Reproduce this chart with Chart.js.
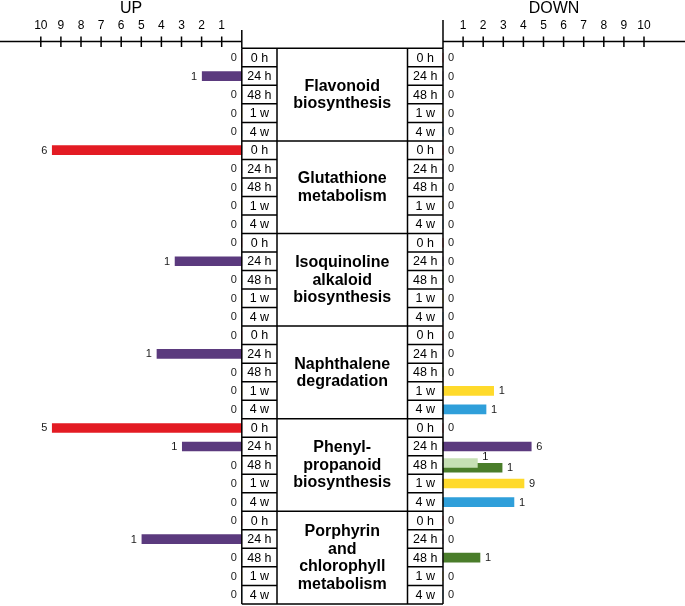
<!DOCTYPE html>
<html><head><meta charset="utf-8">
<script src="https://cdn.jsdelivr.net/npm/chart.js@4.4.1/dist/chart.umd.min.js"></script>
<style>html,body{margin:0;padding:0;background:#fff;}canvas{display:block;}</style>
</head><body>
<canvas id="c" width="685" height="606"></canvas>
<script>
// ---- data ----
const pathways = [
  ['Flavonoid', 'biosynthesis'],
  ['Glutathione', 'metabolism'],
  ['Isoquinoline', 'alkaloid', 'biosynthesis'],
  ['Naphthalene', 'degradation'],
  ['Phenyl-', 'propanoid', 'biosynthesis'],
  ['Porphyrin', 'and', 'chlorophyll', 'metabolism']
];
const timePoints = ['0 h', '24 h', '48 h', '1 w', '4 w'];
const axisTicks = [1, 2, 3, 4, 5, 6, 7, 8, 9, 10];
const sideTitles = ['UP', 'DOWN'];

// UP (left) bar lengths, one value per pathway
const upBar0h  = [0, 9.43, 0, 0, 9.43, 0];
const upBar24h = [1.97, 0, 3.32, 4.22, 2.96, 4.97];
const upBar48h = [0, 0, 0, 0, 0, 0];
const upBar1w  = [0, 0, 0, 0, 0, 0];
const upBar4w  = [0, 0, 0, 0, 0, 0];
// UP count labels
const upCount0h  = [0, 6, 0, 0, 5, 0];
const upCount24h = [1, 0, 1, 1, 1, 1];
const upCount48h = [0, 0, 0, 0, 0, 0];
const upCount1w  = [0, 0, 0, 0, 0, 0];
const upCount4w  = [0, 0, 0, 0, 0, 0];

// DOWN (right) bar lengths
const downBar0h       = [0, 0, 0, 0, 0, 0];
const downBar24h      = [0, 0, 0, 0, 4.39, 0];
const downBar48h      = [0, 0, 0, 0, 2.94, 1.84];
const downBar48hLight = [0, 0, 0, 0, 1.71, 0];
const downBar1w       = [0, 0, 0, 2.52, 4.03, 0];
const downBar4w       = [0, 0, 0, 2.14, 3.53, 0];
// DOWN count labels
const downCount0h       = [0, 0, 0, 0, 0, 0];
const downCount24h      = [0, 0, 0, 0, 6, 0];
const downCount48h      = [0, 0, 0, 0, 1, 1];
const downCount48hLight = [0, 0, 0, 0, 1, 0];
const downCount1w       = [0, 0, 0, 1, 9, 0];
const downCount4w       = [0, 0, 0, 1, 1, 0];

// ---- styles ----
const timeColors = ['#E31B23', '#5B3A7E', '#4A7D2A', '#FFDA2B', '#2F9FDA'];
const lightGreen = '#C6E0B4';
const FONT = '"Liberation Sans", Arial, sans-serif';

function mk(side, t, bars, counts, color, shiftFn, light) {
  return {
    label: side + ' ' + timePoints[t] + (light ? ' (light)' : ''),
    xAxisID: side === 'up' ? 'xl' : 'xr',
    yAxisID: 'y',
    data: bars.map((v, i) => ({ x: v, y: i * 5 + t + shiftFn(i) })),
    counts: counts,
    side: side,
    light: !!light,
    backgroundColor: color,
    borderWidth: 0,
    barThickness: 9,
    grouped: false
  };
}
const noShift = () => 0;
const darkShift = i => (downBar48hLight[i] > 0 ? 0.15 : 0);
const lightShift = () => -0.11;

const datasets = [
  mk('down', 2, downBar48hLight, downCount48hLight, lightGreen, lightShift, true),
  mk('up', 0, upBar0h, upCount0h, timeColors[0], noShift),
  mk('up', 1, upBar24h, upCount24h, timeColors[1], noShift),
  mk('up', 2, upBar48h, upCount48h, timeColors[2], noShift),
  mk('up', 3, upBar1w, upCount1w, timeColors[3], noShift),
  mk('up', 4, upBar4w, upCount4w, timeColors[4], noShift),
  mk('down', 0, downBar0h, downCount0h, timeColors[0], noShift),
  mk('down', 1, downBar24h, downCount24h, timeColors[1], noShift),
  mk('down', 2, downBar48h, downCount48h, timeColors[2], darkShift),
  mk('down', 3, downBar1w, downCount1w, timeColors[3], noShift),
  mk('down', 4, downBar4w, downCount4w, timeColors[4], noShift)
];

const deco = {
  id: 'deco',
  beforeDraw(chart) {
    const ctx = chart.ctx;
    ctx.save();
    ctx.fillStyle = '#fff';
    ctx.fillRect(0, 0, chart.width, chart.height);
    ctx.restore();
  },
  afterDatasetsDraw(chart) {
    const ctx = chart.ctx;
    const xl = chart.scales.xl, xr = chart.scales.xr, ys = chart.scales.y;
    const L0 = xl.getPixelForValue(0), R0 = xr.getPixelForValue(0);
    const L1 = 277, R1 = 407.5;
    const nRows = pathways.length * timePoints.length;
    const tTop = ys.getPixelForValue(-0.5), tBot = ys.getPixelForValue(nRows - 0.5);
    ctx.save();
    ctx.strokeStyle = '#000';
    ctx.fillStyle = '#000';
    ctx.lineWidth = 1.5;

    // axes
    const axY = 41.5;
    ctx.beginPath();
    ctx.moveTo(0, axY); ctx.lineTo(L0, axY);
    ctx.moveTo(R0, axY); ctx.lineTo(chart.width, axY);
    ctx.moveTo(L0, 30); ctx.lineTo(L0, tTop);
    ctx.moveTo(R0, 20); ctx.lineTo(R0, tTop);
    axisTicks.forEach(v => {
      const a = xl.getPixelForValue(v), b = xr.getPixelForValue(v);
      ctx.moveTo(a, axY - 5); ctx.lineTo(a, axY + 5.5);
      ctx.moveTo(b, axY - 5); ctx.lineTo(b, axY + 5.5);
    });
    ctx.stroke();
    ctx.font = '12px ' + FONT;
    ctx.textAlign = 'center';
    ctx.textBaseline = 'middle';
    axisTicks.forEach(v => {
      ctx.fillText(String(v), xl.getPixelForValue(v), 26);
      ctx.fillText(String(v), xr.getPixelForValue(v), 26);
    });
    ctx.font = '16px ' + FONT;
    ctx.fillText(sideTitles[0], 131, 8.5);
    ctx.fillText(sideTitles[1], 554, 8.5);

    // table
    ctx.beginPath();
    [L0, L1, R1, R0].forEach(x => { ctx.moveTo(x, tTop); ctx.lineTo(x, tBot); });
    for (let k = 0; k <= nRows; k++) {
      const yy = ys.getPixelForValue(k - 0.5);
      if (k % timePoints.length === 0) {
        ctx.moveTo(L0, yy); ctx.lineTo(R0, yy);
      } else {
        ctx.moveTo(L0, yy); ctx.lineTo(L1, yy);
        ctx.moveTo(R1, yy); ctx.lineTo(R0, yy);
      }
    }
    ctx.stroke();
    ctx.font = '12.5px ' + FONT;
    for (let r = 0; r < nRows; r++) {
      const yy = ys.getPixelForValue(r) + 0.5;
      const lab = timePoints[r % timePoints.length];
      ctx.fillText(lab, (L0 + L1) / 2, yy);
      ctx.fillText(lab, (R1 + R0) / 2, yy);
    }
    ctx.font = 'bold 16px ' + FONT;
    const lh = 17.5;
    pathways.forEach((lines, g) => {
      const cy = ys.getPixelForValue(g * timePoints.length + 2);
      const start = cy - (lines.length - 1) * lh / 2;
      lines.forEach((s, j) => ctx.fillText(s, (L1 + R1) / 2, start + j * lh + 0.5));
    });

    // value labels
    ctx.font = '11px ' + FONT;
    ctx.fillStyle = '#1a1a1a';
    chart.data.datasets.forEach((ds, di) => {
      const meta = chart.getDatasetMeta(di);
      meta.data.forEach((el, i) => {
        const c = ds.counts[i];
        if (ds.light && !c) return;
        if (ds.side === 'up') {
          ctx.textAlign = 'right';
          ctx.fillText(String(c), Math.min(el.x, el.base) - 5, el.y + 0.5);
        } else {
          ctx.textAlign = 'left';
          const yy = ds.light ? el.y - 6 : el.y + 0.5;
          ctx.fillText(String(c), Math.max(el.x, el.base) + 5, yy);
        }
      });
    });
    ctx.restore();
  }
};

new Chart(document.getElementById('c'), {
  type: 'bar',
  data: { datasets: datasets },
  options: {
    indexAxis: 'y',
    responsive: false,
    animation: false,
    events: [],
    layout: { padding: 0 },
    plugins: { legend: { display: false }, tooltip: { enabled: false } },
    scales: {
      y: { type: 'linear', reverse: true, min: -3.108, max: 29.613, offset: false, display: false, bounds: 'data' },
      xl: { type: 'linear', axis: 'x', position: 'top', reverse: true, min: -22.05, max: 12.03, offset: false, display: false, bounds: 'data' },
      xr: { type: 'linear', axis: 'x', position: 'top', min: -22.04, max: 12.04, offset: false, display: false, bounds: 'data' }
    }
  },
  plugins: [deco]
});
</script>
</body></html>
